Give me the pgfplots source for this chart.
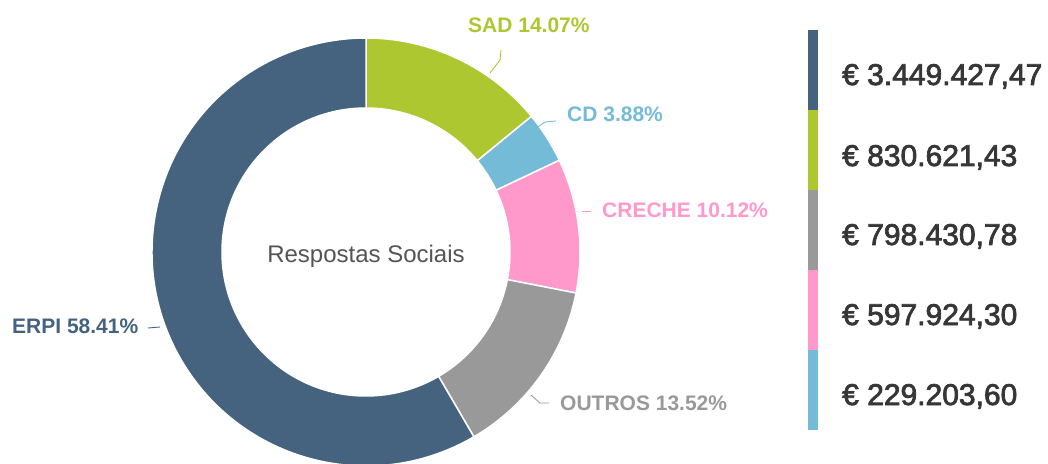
\documentclass[border=0pt]{standalone}
\usepackage{pgfplots}
\pgfplotsset{compat=1.18}
\usepackage{pgfplotstable}
\usepackage{fontspec}
\setmainfont{Liberation Sans}
\newfontfamily\medfont[FakeBold=2.5]{Liberation Sans}
\definecolor{cERPI}{HTML}{45637F}
\definecolor{cSAD}{HTML}{ADC731}
\definecolor{cCD}{HTML}{74BBD8}
\definecolor{cCRECHE}{HTML}{FF99CC}
\definecolor{cOUTROS}{HTML}{999999}
\definecolor{legtxt}{HTML}{363636}
\pgfplotstableread{
name pct
SAD 14.07
CD 3.88
CRECHE 10.12
OUTROS 13.52
ERPI 58.41
}\slices
\newcommand\slice[3]{%
  \fill[#3,draw=white,line width=1.5pt]
    ([shift={(#1:214pt)}]axis cs:366,211) arc[start angle=#1,end angle=#2,radius=214pt]
    -- ([shift={(#2:144pt)}]axis cs:366,211) arc[start angle=#2,end angle=#1,radius=144pt]
    -- cycle;}
\begin{document}
\begin{tikzpicture}
\clip (0,0) rectangle (1048pt,463pt);
\pgfplotstablegetelem{0}{pct}\of\slices \let\pA\pgfplotsretval
\pgfplotstablegetelem{1}{pct}\of\slices \let\pB\pgfplotsretval
\pgfplotstablegetelem{2}{pct}\of\slices \let\pC\pgfplotsretval
\pgfplotstablegetelem{3}{pct}\of\slices \let\pD\pgfplotsretval
\pgfplotstablegetelem{4}{pct}\of\slices \let\pE\pgfplotsretval
\pgfmathsetmacro\tA{90}
\pgfmathsetmacro\tB{\tA-3.6*\pA}
\pgfmathsetmacro\tC{\tB-3.6*\pB}
\pgfmathsetmacro\tD{\tC-3.6*\pC}
\pgfmathsetmacro\tE{\tD-3.6*\pD}
\pgfmathsetmacro\tF{\tE-3.6*\pE}
\begin{axis}[at={(0,0)},anchor=south west,scale only axis,
  width=1048pt,height=463pt,xmin=0,xmax=1048,ymin=0,ymax=463,
  hide axis,clip=false]
\slice{\tA}{\tB}{cSAD}
\slice{\tB}{\tC}{cCD}
\slice{\tC}{\tD}{cCRECHE}
\slice{\tD}{\tE}{cOUTROS}
\slice{\tE}{\tF}{cERPI}
\node[anchor=base,text=black!67,font=\fontsize{24}{28}\selectfont] at (axis cs:366,200) {Respostas Sociais};
% labels and leader lines
\draw[cSAD,line width=0.9pt] (axis cs:490,390) -- (axis cs:500,403) -- (axis cs:501,413);
\node[anchor=base west,text=cSAD,font=\fontsize{21}{24}\selectfont\bfseries,inner sep=0pt] at (axis cs:468,430) {SAD 14.07\%};
\draw[cCD,line width=0.9pt] (axis cs:538,336) -- (axis cs:545,341) -- (axis cs:556,342);
\node[anchor=base west,text=cCD,font=\fontsize{21}{24}\selectfont\bfseries,inner sep=0pt] at (axis cs:567,341) {CD 3.88\%};
\draw[cCRECHE,line width=0.9pt] (axis cs:582,252) -- (axis cs:591,252);
\node[anchor=base west,text=cCRECHE,font=\fontsize{21}{24}\selectfont\bfseries,inner sep=0pt] at (axis cs:602,245) {CRECHE 10.12\%};
\draw[cOUTROS,line width=0.9pt] (axis cs:531,68) -- (axis cs:540,60) -- (axis cs:549,60);
\node[anchor=base west,text=cOUTROS,font=\fontsize{21}{24}\selectfont\bfseries,inner sep=0pt] at (axis cs:560,53) {OUTROS 13.52\%};
\draw[cERPI,line width=0.9pt] (axis cs:148,135) -- (axis cs:160,136);
\node[anchor=base west,text=cERPI,font=\fontsize{21}{24}\selectfont\bfseries,inner sep=0pt] at (axis cs:12,130) {ERPI 58.41\%};
% legend bar
\fill[cERPI] (axis cs:808,433) rectangle (axis cs:818,353);
\fill[cSAD] (axis cs:808,353) rectangle (axis cs:818,273);
\fill[cOUTROS] (axis cs:808,273) rectangle (axis cs:818,193);
\fill[cCRECHE] (axis cs:808,193) rectangle (axis cs:818,113);
\fill[cCD] (axis cs:808,113) rectangle (axis cs:818,33);
\begin{scope}[every node/.style={anchor=base west,text=legtxt,inner sep=0pt,font=\fontsize{30}{34}\selectfont\medfont}]
\node at (axis cs:842,378) {€ 3.449.427,47};
\node at (axis cs:842,297) {€ 830.621,43};
\node at (axis cs:842,218) {€ 798.430,78};
\node at (axis cs:842,138) {€ 597.924,30};
\node at (axis cs:842,58) {€ 229.203,60};
\end{scope}
\end{axis}
\end{tikzpicture}
\end{document}
